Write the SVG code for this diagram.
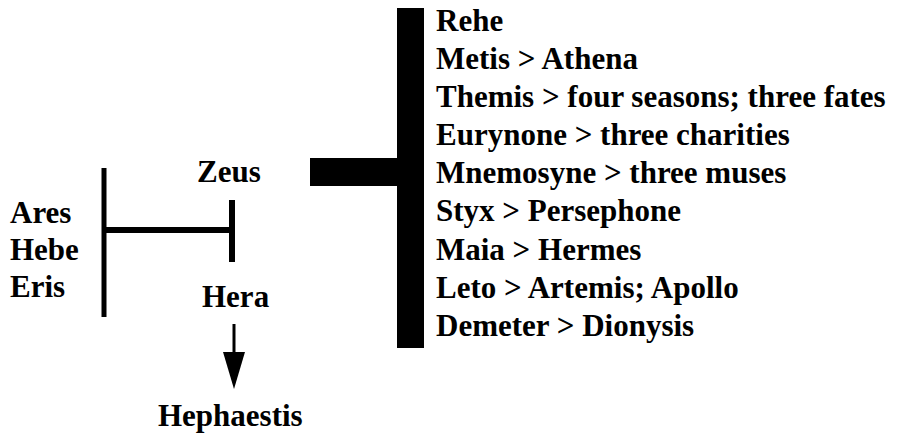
<svg xmlns="http://www.w3.org/2000/svg" width="903" height="436" viewBox="0 0 903 436">
<style>
.t { font-family: 'Liberation Serif', 'Tinos', 'Times New Roman', 'DejaVu Serif', serif; font-weight: 700; font-size: 31px; fill: #000; }
.ln { stroke: #000; fill: none; }
</style>
<rect width="903" height="436" fill="#fff"/>
<g id="connectors">
<rect x="397" y="8" width="27" height="340" fill="#000"/>
<rect x="310" y="158" width="88" height="28" fill="#000"/>
<line class="ln" x1="104" y1="168" x2="104" y2="317" stroke-width="5"/>
<line class="ln" x1="104" y1="230" x2="232" y2="230" stroke-width="6"/>
<line class="ln" x1="232" y1="200" x2="232" y2="262" stroke-width="6"/>
<line class="ln" x1="234" y1="324" x2="234" y2="353" stroke-width="3"/>
<path d="M223,352 L245,352 L234,389 Z" fill="#000"/>
</g>
<g id="zeus" class="t"><text x="197" y="182">Zeus</text></g>
<g id="hera" class="t"><text x="202" y="307">Hera</text></g>
<g id="hephaestis" class="t"><text x="158" y="426">Hephaestis</text></g>
<g id="children" class="t">
<text x="10" y="223">Ares</text>
<text x="10" y="260">Hebe</text>
<text x="10" y="297">Eris</text>
</g>
<g id="consorts" class="t">
<text x="436" y="31">Rehe</text>
<text x="436" y="69">Metis &gt; Athena</text>
<text x="436" y="107">Themis &gt; four seasons; three fates</text>
<text x="436" y="145">Eurynone &gt; three charities</text>
<text x="436" y="183">Mnemosyne &gt; three muses</text>
<text x="436" y="221">Styx &gt; Persephone</text>
<text x="436" y="260">Maia &gt; Hermes</text>
<text x="436" y="298">Leto &gt; Artemis; Apollo</text>
<text x="436" y="336">Demeter &gt; Dionysis</text>
</g>
</svg>
